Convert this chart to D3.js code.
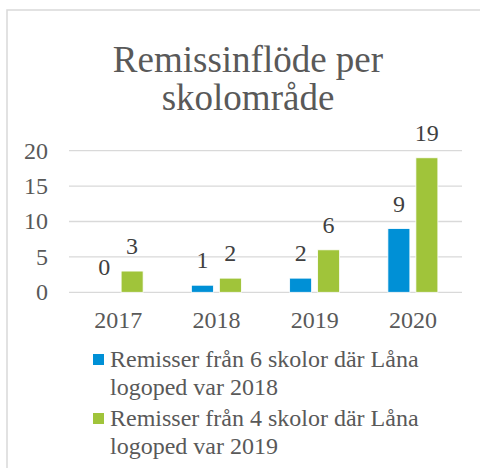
<!DOCTYPE html>
<html>
<head>
  <meta charset="UTF-8">
  <script src="https://cdn.jsdelivr.net/npm/d3@7"></script>
</head>
<body style="margin:0">
  <script>
    const years = ['2017', '2018', '2019', '2020']
    const seriesNames = [
      ['Remisser från 6 skolor där Låna', 'logoped var 2018'],
      ['Remisser från 4 skolor där Låna', 'logoped var 2019']
    ]
    const sixSchools = [0, 1, 2, 9]
    const fourSchools = [3, 2, 6, 19]
    const yTicks = [0, 5, 10, 15, 20]
    const colors = ['#0090d6', '#a0c43a']

    const W = 480, H = 468
    const serif = '"Liberation Serif", "Tinos", "Times New Roman", "Nimbus Roman", "FreeSerif", serif'
    const svg = d3.select('body').append('svg')
        .attr('width', W)
        .attr('height', H)

    // chart area border (runs off the right and bottom edge)
    svg.append('rect')
        .attr('x', 7).attr('y', 10)
        .attr('width', 500).attr('height', 500)
        .attr('fill', 'none')
        .attr('stroke', '#d9d9d9')
        .attr('stroke-width', 1.5)

    const title = ['Remissinflöde per', 'skolområde']
    svg.append('g')
        .selectAll('text')
        .data(title)
        .join('text')
        .attr('x', 248)
        .attr('y', (d, i) => 72 + i * 38)
        .attr('text-anchor', 'middle')
        .style('font-family', serif)
        .attr('font-size', 37)
        .attr('fill', '#595959')
        .text(d => d)

    const x0 = d3.scaleBand().domain(years).range([69, 462])
    const x1 = d3.scaleBand().domain([0, 1])
        .range([x0.bandwidth() / 2 - 25, x0.bandwidth() / 2 + 25])
        .paddingInner(0.214)
    const y = d3.scaleLinear().domain([0, 20]).range([292.3, 150.7])

    svg.append('g')
        .selectAll('line')
        .data(yTicks)
        .join('line')
        .attr('x1', 69).attr('x2', 462)
        .attr('y1', d => y(d)).attr('y2', d => y(d))
        .attr('stroke', '#d9d9d9')
        .attr('stroke-width', 1.3)

    svg.append('g')
        .selectAll('text')
        .data(yTicks)
        .join('text')
        .attr('x', 48)
        .attr('y', d => y(d))
        .attr('dy', '0.33em')
        .attr('text-anchor', 'end')
        .style('font-family', serif)
        .attr('font-size', 24)
        .attr('fill', '#595959')
        .text(d => d)

    svg.append('g')
        .selectAll('text')
        .data(years)
        .join('text')
        .attr('x', d => x0(d) + x0.bandwidth() / 2)
        .attr('y', 328)
        .attr('text-anchor', 'middle')
        .style('font-family', serif)
        .attr('font-size', 24)
        .attr('fill', '#595959')
        .text(d => d)

    const series = [sixSchools, fourSchools]
    series.forEach((vals, s) => {
      const rows = years.map((yr, i) => ({ yr, v: vals[i] }))
      svg.append('g')
          .selectAll('rect')
          .data(rows)
          .join('rect')
          .attr('x', d => x0(d.yr) + x1(s))
          .attr('y', d => y(d.v))
          .attr('width', x1.bandwidth())
          .attr('height', d => y(0) - y(d.v))
          .attr('fill', colors[s])
          .attr('stroke', '#fff')
          .attr('stroke-width', 0.8)
      svg.append('g')
          .selectAll('text')
          .data(rows)
          .join('text')
          .attr('x', d => x0(d.yr) + x1(s) + x1.bandwidth() / 2)
          .attr('y', d => y(d.v) - 17)
          .attr('text-anchor', 'middle')
          .style('font-family', serif)
          .attr('font-size', 24)
          .attr('fill', '#404040')
          .text(d => d.v)
    })

    const legend = svg.append('g')
    seriesNames.forEach((lines, s) => {
      const top = 354 + s * 59
      legend.append('rect')
          .attr('x', 93).attr('y', top)
          .attr('width', 11).attr('height', 11)
          .attr('fill', colors[s])
      legend.append('g')
          .selectAll('text')
          .data(lines)
          .join('text')
          .attr('x', 110)
          .attr('y', (d, j) => top + 13 + j * 27.5)
          .style('font-family', serif)
          .attr('font-size', 24)
          .attr('fill', '#595959')
          .text(d => d)
    })
  </script>
</body>
</html>
